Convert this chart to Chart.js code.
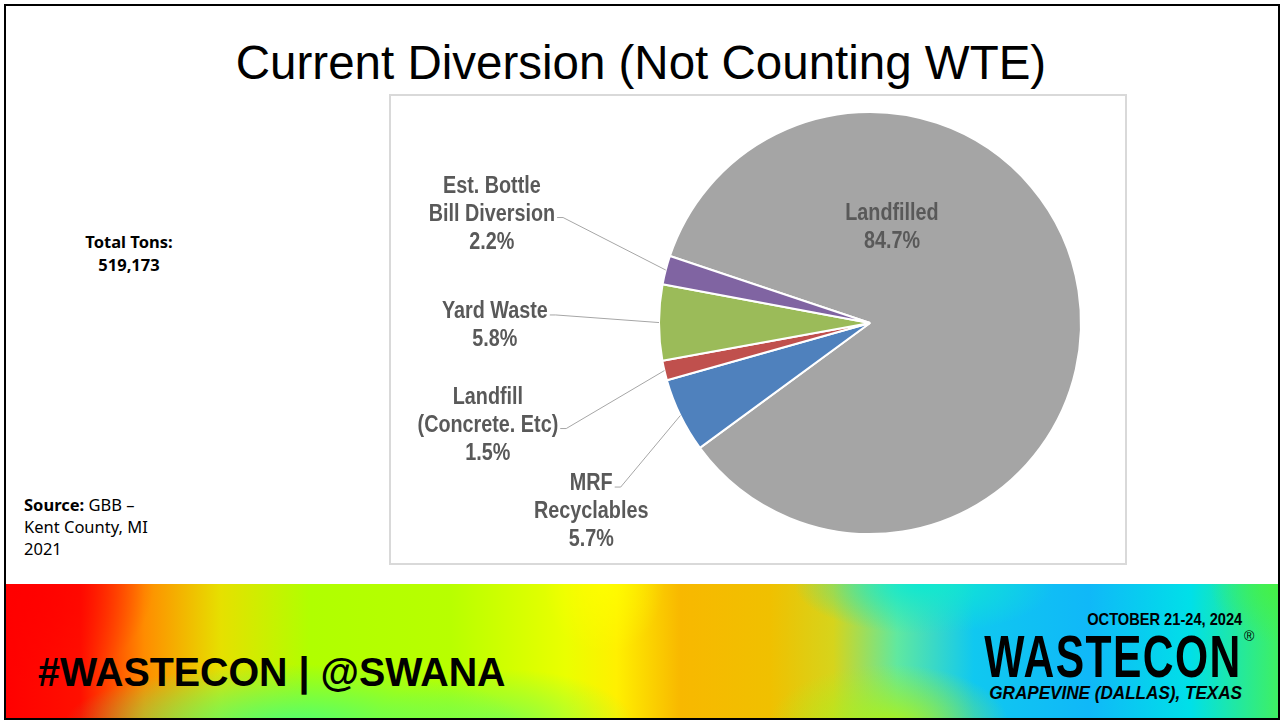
<!DOCTYPE html>
<html lang="en">
<head>
<meta charset="UTF-8">
<title>Current Diversion (Not Counting WTE)</title>
<script src="https://cdn.jsdelivr.net/npm/chart.js@4.4.1/dist/chart.umd.min.js"></script>
<style>
    html,body{margin:0; padding:0; background:#fff;}
    #slide{position:relative; width:1282px; height:722px; overflow:hidden; font-family:"Liberation Sans", Arial, sans-serif;}
    #frame{position:absolute; left:4px; top:4px; width:1276px; height:716px; border:2px solid #000; box-sizing:border-box; z-index:5; pointer-events:none;}
    #title{position:absolute; left:0; width:1282px; top:35px; text-align:center; font-size:47.5px; color:#000; line-height:56px;}
    #chartBox{position:absolute; left:389px; top:94px; width:738px; height:471px; border:2px solid #d9d9d9; box-sizing:border-box;}
    #totals{position:absolute; left:54px; width:150px; top:230px; text-align:center; font-family:"Noto Sans", sans-serif; font-weight:bold; font-size:16.5px; line-height:23px;}
    #source{position:absolute; left:24px; top:494px; font-family:"Noto Sans", sans-serif; font-size:16.5px; line-height:22px;}
    #banner{position:absolute; left:4px; top:584px; width:1276px; height:136px;
        background:
            radial-gradient(ellipse 150px 110px at 0px 0px, rgba(255,0,0,1), rgba(255,0,0,0)),
            radial-gradient(ellipse 230px 60px at 290px 140px, rgba(80,255,112,1), rgba(80,255,112,0)),
            radial-gradient(ellipse 130px 55px at 500px 140px, rgba(100,255,100,0.7), rgba(100,255,100,0)),
            radial-gradient(ellipse 120px 60px at 885px 140px, rgba(170,240,30,1), rgba(170,240,30,0)),
            radial-gradient(ellipse 130px 50px at 920px 0px, rgba(16,232,208,1), rgba(16,232,208,0)),
            radial-gradient(ellipse 70px 60px at 1276px 0px, rgba(70,240,70,1), rgba(70,240,70,0)),
            radial-gradient(ellipse 60px 70px at 600px 0px, rgba(255,255,0,0.8), rgba(255,255,0,0)),
            linear-gradient(90deg, #ff0000 0%, #ff1000 6%, #ff8c00 11%, #e6e000 17%, #b0ff00 24%, #b8ff00 35%, #eaff00 44%, #fff000 48%, #f8b800 53%, #f0c000 60%, #d6d41c 65%, #60e8a0 70%, #10c8f0 76%, #10b8f8 85%, #00e0e8 93%, #40f060 100%);}
    #hashtag{position:absolute; left:38px; top:650px; font-weight:bold; font-size:40px; line-height:44px; color:#000; transform:scaleX(0.985); transform-origin:left center; white-space:nowrap;}
    .logo{position:absolute; right:40px; white-space:nowrap; font-weight:bold; color:#000; transform-origin:right center; text-align:right;}
    #date{top:610px; font-size:17px; line-height:20px; transform:scaleX(0.86);}
    #brand{top:628px; font-size:60px; line-height:58px; transform:scaleX(0.71); letter-spacing:2px;}
    #reg{position:absolute; left:1244px; top:628px; font-size:14px; font-weight:normal;}
    #place{top:682px; font-size:18px; line-height:22px; font-style:italic; transform:scaleX(0.95);}
</style>
</head>
<body>
<div id="slide">
    <div id="title">Current Diversion (Not Counting WTE)</div>
    <div id="totals">Total Tons:<br>519,173</div>
    <div id="source"><b>Source:</b> GBB –<br>Kent County, MI<br>2021</div>
    <div id="chartBox"><canvas id="pie" width="734" height="467"></canvas></div>
    <div id="banner"></div>
    <div id="hashtag">#WASTECON | @SWANA</div>
    <div class="logo" id="date">OCTOBER 21-24, 2024</div>
    <div class="logo" id="brand">WASTECON</div>
    <div id="reg">®</div>
    <div class="logo" id="place">GRAPEVINE (DALLAS), TEXAS</div>
    <div id="frame"></div>
</div>
<script>
    // share of total tons (%)
    const categories = ['Landfilled', 'MRF Recyclables', 'Landfill (Concrete. Etc)', 'Yard Waste', 'Est. Bottle Bill Diversion'];
    const shares = [84.7, 5.7, 1.5, 5.8, 2.2];
    const labelLines = [['Landfilled'], ['MRF', 'Recyclables'], ['Landfill', '(Concrete. Etc)'], ['Yard Waste'], ['Est. Bottle', 'Bill Diversion']];
    const sliceColors = ['#A5A5A5', '#4F81BD', '#C0504D', '#9BBB59', '#8064A2'];

    // where each label sits, in pie radii from the centre; link = line index the leader attaches to
    const labelSpots = [
        {kx: 0.104, ky: -0.453, link: null},
        {kx: -1.321, ky: 0.896, link: 0},
        {kx: -1.811, ky: 0.486, link: 1},
        {kx: -1.778, ky: 0.014, link: 0},
        {kx: -1.792, ky: -0.514, link: 1}
    ];

    const outsideLabels = {
        id: 'outsideLabels',
        afterDatasetsDraw(chart) {
            const ctx = chart.ctx;
            const arcs = chart.getDatasetMeta(0).data;
            const sx = 0.86, lh = 28;
            ctx.save();
            ctx.font = 'bold 23px "Liberation Sans", Arial, sans-serif';
            ctx.textAlign = 'center';
            ctx.textBaseline = 'middle';
            arcs.forEach(function(arc, i) {
                const p = arc.getProps(['x', 'y', 'startAngle', 'endAngle', 'outerRadius'], true);
                const mid = (p.startAngle + p.endAngle) / 2;
                const R = p.outerRadius;
                const spot = labelSpots[i];
                const lines = labelLines[i].concat([shares[i].toFixed(1) + '%']);
                const cx = p.x + spot.kx * R;
                const top = p.y + spot.ky * R - (lines.length - 1) * lh / 2;
                ctx.fillStyle = '#595959';
                lines.forEach(function(t, j) {
                    ctx.save();
                    ctx.translate(cx, top + j * lh);
                    ctx.scale(sx, 1);
                    ctx.fillText(t, 0, 0);
                    ctx.restore();
                });
                if (spot.link !== null) {
                    const w = ctx.measureText(lines[spot.link]).width * sx;
                    const ay = top + spot.link * lh + 3;
                    const ax = cx + w / 2 + 2;
                    ctx.strokeStyle = '#A6A6A6';
                    ctx.lineWidth = 1;
                    ctx.beginPath();
                    ctx.moveTo(ax, ay);
                    ctx.lineTo(ax + 6, ay);
                    ctx.lineTo(p.x + Math.cos(mid) * R, p.y + Math.sin(mid) * R);
                    ctx.stroke();
                }
            });
            ctx.restore();
        }
    };

    new Chart(document.getElementById('pie'), {
        type: 'pie',
        data: {
            labels: categories,
            datasets: [{
                data: shares,
                backgroundColor: sliceColors,
                borderColor: '#ffffff',
                borderWidth: 2
            }]
        },
        options: {
            responsive: false,
            animation: false,
            rotation: 288.5,
            layout: {padding: {left: 267, top: 15, right: 43, bottom: 28}},
            plugins: {legend: {display: false}, tooltip: {enabled: false}}
        },
        plugins: [outsideLabels]
    });
</script>
</body>
</html>
